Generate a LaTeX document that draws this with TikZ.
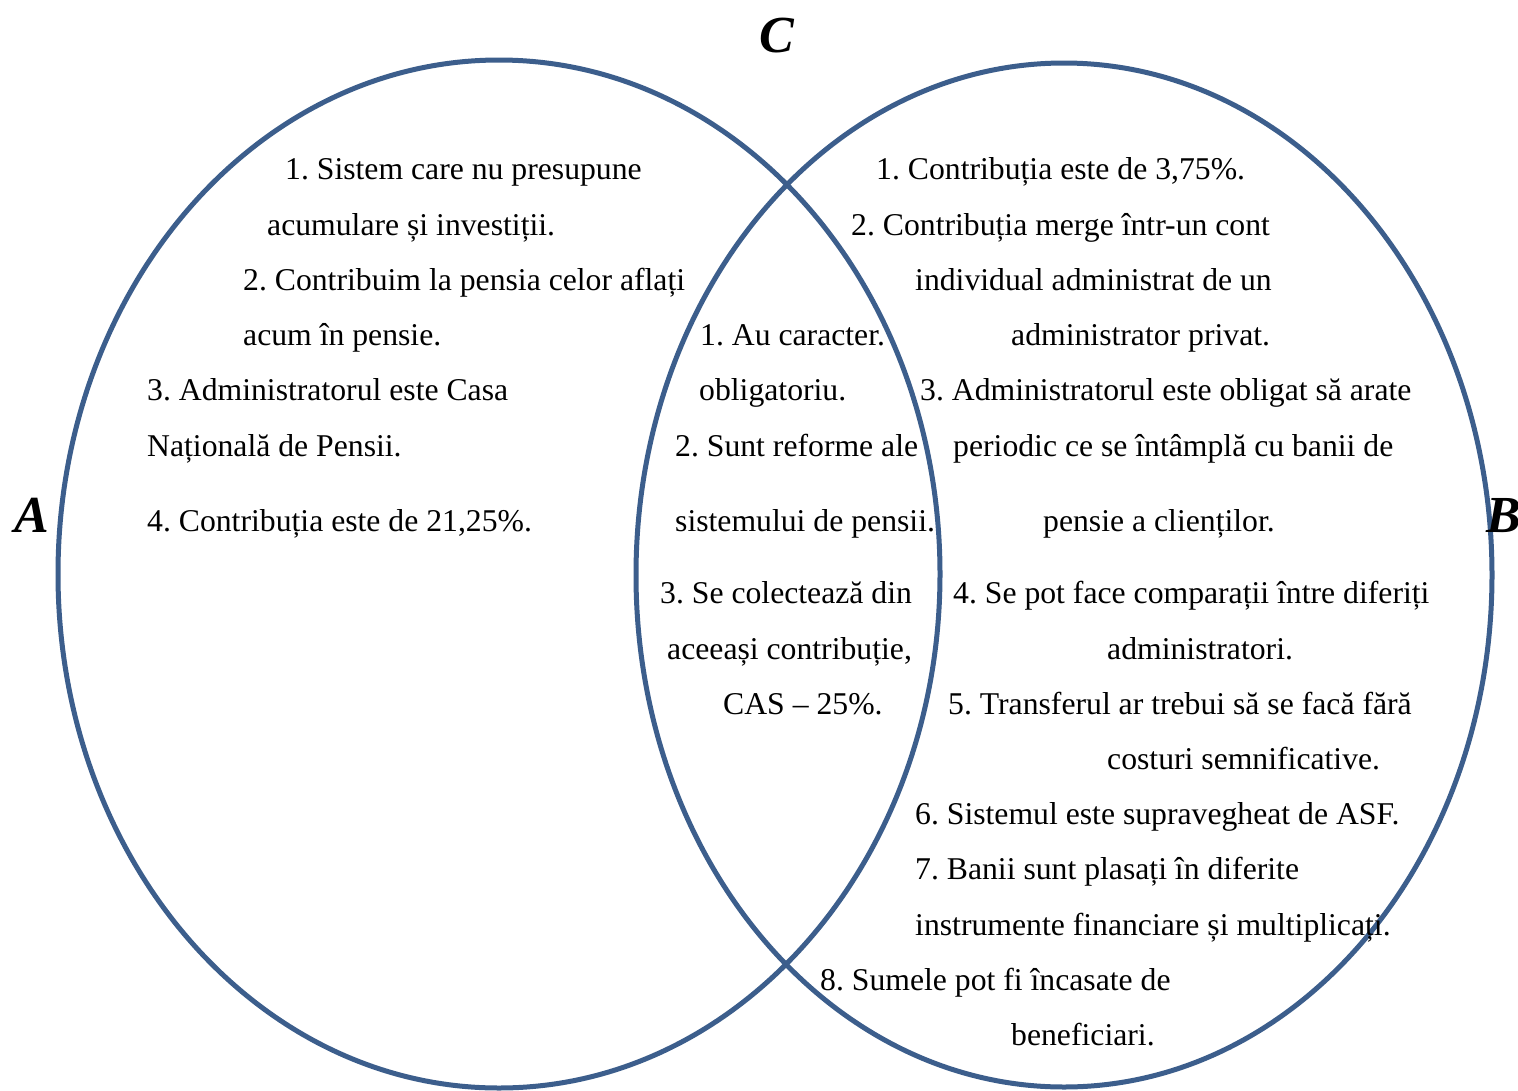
\documentclass[tikz,border=0pt]{standalone}
\usepackage{fontspec}
\setmainfont{Liberation Serif}
\definecolor{venn}{RGB}{60,94,140}
\frenchspacing
\begin{document}
\begin{tikzpicture}[x=1pt,y=-1pt,
  ring/.style={draw=venn,line width=5pt},
  txt/.style={anchor=base west,inner sep=0pt,font=\fontsize{31.7}{36}\selectfont},
  lab/.style={anchor=base west,inner sep=0pt,font=\fontsize{52}{56}\selectfont\bfseries\itshape}]
\useasboundingbox (0,0) rectangle (1518,1090);
\fill[white] (0,0) rectangle (1518,1090);
\draw[ring] (499,574) ellipse [x radius=441, y radius=514];
\draw[ring] (1064,575) ellipse [x radius=428, y radius=512];
% labels
\node[lab] (labC) at (759,52) {C};
\node[lab] (labA) at (14,532) {A};
\node[lab] (labB) at (1486,532) {B};
% left
\node[txt] (a1) at (285,179) {1. Sistem care nu presupune};
\node[txt] (a2) at (267,235) {acumulare și investiții.};
\node[txt] (a3) at (243,290) {2. Contribuim la pensia celor aflați};
\node[txt] (a4) at (243,345) {acum în pensie.};
\node[txt] (a5) at (147,400) {3. Administratorul este Casa};
\node[txt] (a6) at (147,456) {Națională de Pensii.};
\node[txt] (a7) at (147,531) {4. Contribuția este de 21,25\%.};
% middle
\node[txt] (c1) at (700,345) {1. Au caracter.};
\node[txt] (c2) at (699,400) {obligatoriu.};
\node[txt] (c3) at (675,456) {2. Sunt reforme ale};
\node[txt] (c4) at (675,531) {sistemului de pensii.};
\node[txt] (c5) at (660,603) {3. Se colectează din};
\node[txt] (c6) at (667,659) {aceeași contribuție,};
\node[txt] (c7) at (723,714) {CAS – 25\%.};
% right
\node[txt] (b1) at (876,179) {1. Contribuția este de 3,75\%.};
\node[txt] (b2) at (851,235) {2. Contribuția merge într-un cont};
\node[txt] (b3) at (915,290) {individual administrat de un};
\node[txt] (b4) at (1011,345) {administrator privat.};
\node[txt] (b5) at (920,400) {3. Administratorul este obligat să arate};
\node[txt] (b6) at (953,456) {periodic ce se întâmplă cu banii de};
\node[txt] (b7) at (1043,531) {pensie a clienților.};
\node[txt] (b8) at (953,603) {4. Se pot face comparații între diferiți};
\node[txt] (b9) at (1107,659) {administratori.};
\node[txt] (b10) at (948,714) {5. Transferul ar trebui să se facă fără};
\node[txt] (b11) at (1107,769) {costuri semnificative.};
\node[txt] (b12) at (915,824) {6. Sistemul este supravegheat de ASF.};
\node[txt] (b13) at (915,879) {7. Banii sunt plasați în diferite};
\node[txt] (b14) at (915,935) {instrumente financiare și multiplicați.};
\node[txt] (b15) at (820,990) {8. Sumele pot fi încasate de};
\node[txt] (b16) at (1011,1045) {beneficiari.};
\end{tikzpicture}
\end{document}
